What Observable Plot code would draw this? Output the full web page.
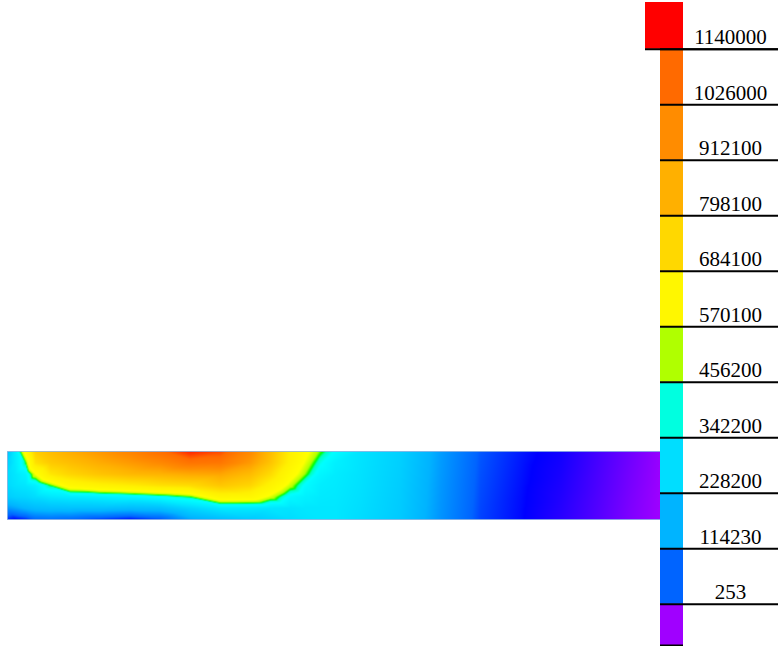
<!DOCTYPE html>
<html>
<head>
<meta charset="utf-8">
<script src="https://cdn.jsdelivr.net/npm/d3@7"></script>
<script src="https://cdn.jsdelivr.net/npm/@observablehq/plot@0.6"></script>
<style>
html, body { margin: 0; padding: 0; background: #fff; }
#chart { position: relative; width: 780px; height: 646px; }
#chart svg { position: absolute; left: 0; top: 0; }
</style>
</head>
<body>
<div id="chart"></div>
<script>
// Sample positions along the field (percent of length) and depth (0 = top, 1 = bottom)
const gridX = [0, 1.2, 2.8, 4.3, 6.6, 9.6, 14.2, 18.8, 23.4, 28, 32.6, 37.2, 40.3, 43.3, 45.6, 47.9, 50.2, 54.1, 60.2, 66.3, 72.4, 78.6, 84.7, 90.8, 95.4, 100];
const gridDepth = [0, 0.167, 0.333, 0.5, 0.667, 0.833, 1];

// Field values, one array per depth row
const row0 = [220000, 350000, 570000, 770000, 830000, 880000, 940000, 1000000, 1070000, 1160000, 1120000, 980000, 830000, 650000, 540000, 465000, 405000, 320000, 260000, 140000, 50000, 15000, -20000, -90000, -140000, -190000];
const row1 = [265000, 345000, 455000, 700000, 780000, 820000, 880000, 930000, 980000, 1050000, 1040000, 930000, 800000, 630000, 510000, 420000, 360000, 318000, 257000, 137000, 48000, 13000, -25000, -93000, -143000, -192000];
const row2 = [295000, 330000, 370000, 520000, 680000, 740000, 800000, 840000, 860000, 890000, 900000, 830000, 720000, 560000, 470000, 380000, 345000, 315000, 254000, 135000, 46000, 11000, -30000, -97000, -147000, -194000];
const row3 = [290000, 315000, 330000, 360000, 455000, 580000, 630000, 660000, 700000, 720000, 790000, 740000, 620000, 490000, 400000, 350000, 340000, 312000, 250000, 132000, 44000, 9000, -35000, -100000, -150000, -196000];
const row4 = [250000, 270000, 280000, 300000, 330000, 345000, 360000, 380000, 410000, 455000, 600000, 590000, 500000, 390000, 360000, 340000, 335000, 308000, 247000, 130000, 42000, 7000, -40000, -104000, -154000, -198000];
const row5 = [130000, 150000, 180000, 200000, 210000, 215000, 215000, 200000, 210000, 280000, 340000, 340000, 330000, 320000, 330000, 330000, 330000, 303000, 244000, 128000, 40000, 6000, -45000, -107000, -157000, -199000];
const row6 = [20000, 0, 20000, 60000, 70000, 60000, 30000, 5000, 40000, 150000, 200000, 240000, 270000, 300000, 320000, 330000, 330000, 298000, 240000, 125000, 38000, 5000, -50000, -110000, -160000, -200000];

// Legend thresholds (bottom to top)
const legendThresholds = [253, 114230, 228200, 342200, 456200, 570100, 684100, 798100, 912100, 1026000, 1140000];

// Colour scale (continuous) and legend swatches
const colorStops = [-200000, 0, 57000, 171000, 285000, 350000, 410000, 440000, 455000, 475000, 520000, 650000, 760000, 870000, 969000, 1083000, 1197000];
const colorRange = ["#a000ff", "#0000ff", "#0064ff", "#00b4ff", "#00d8ff", "#00eeff", "#00ffff", "#00ffc0", "#00ff00", "#b0ff00", "#ffff00", "#fff000", "#ffd000", "#ffb000", "#ff8c00", "#ff6a00", "#ff0000"];
const swatchColors = ["#a000ff", "#0064ff", "#00b4ff", "#00deff", "#00ffe0", "#b0ff00", "#fff700", "#ffd800", "#ffb000", "#ff8c00", "#ff6a00", "#ff0000"];

const fieldRows = [row0, row1, row2, row3, row4, row5, row6];
const points = [];
fieldRows.forEach((r, i) => r.forEach((v, j) => points.push({x: gridX[j], y: gridDepth[i], v})));

const fieldPlot = Plot.plot({
  width: 780, height: 646,
  marginLeft: 7, marginRight: 120, marginTop: 451, marginBottom: 127,
  x: {domain: [0, 100], axis: null},
  y: {domain: [0, 1], reverse: true, axis: null},
  color: {type: "linear", domain: colorStops, range: colorRange, interpolate: "rgb"},
  marks: [
    Plot.raster(points, {x: "x", y: "y", fill: "v", interpolate: "barycentric", pixelSize: 1}),
    Plot.frame({stroke: "#7ea6dc", strokeOpacity: 0.7})
  ]
});

const yLo = -84350, yHi = 1236000;
const bands = swatchColors.map((c, i) => ({
  lo: i === 0 ? yLo : legendThresholds[i - 1],
  hi: i === swatchColors.length - 1 ? yHi : legendThresholds[i],
  color: c
}));
const topBand = bands[bands.length - 1];

const legendPlot = Plot.plot({
  width: 780, height: 646,
  marginLeft: 660, marginRight: 2, marginTop: 2, marginBottom: 1,
  y: {domain: [yLo, yHi], axis: null},
  color: {type: "identity"},
  marks: [
    Plot.rect(bands.slice(0, -1), {y1: "lo", y2: "hi", fill: "color", insetRight: 95}),
    Plot.rect([topBand], {y1: "lo", y2: "hi", fill: "color", insetRight: 95, insetLeft: -15}),
    Plot.ruleY(legendThresholds, {stroke: "black", strokeWidth: 2}),
    Plot.ruleY([legendThresholds[legendThresholds.length - 1]], {stroke: "black", strokeWidth: 2, insetLeft: -15}),
    Plot.ruleY([yLo], {stroke: "black", strokeWidth: 2, insetRight: 95}),
    Plot.text(legendThresholds, {
      y: d => d, text: d => String(d),
      dx: 11, dy: -5, lineAnchor: "bottom", textAnchor: "middle",
      fontSize: 21, fontFamily: "Liberation Serif, Times New Roman, serif", fill: "black"
    })
  ]
});

document.getElementById("chart").append(fieldPlot, legendPlot);
</script>
</body>
</html>
